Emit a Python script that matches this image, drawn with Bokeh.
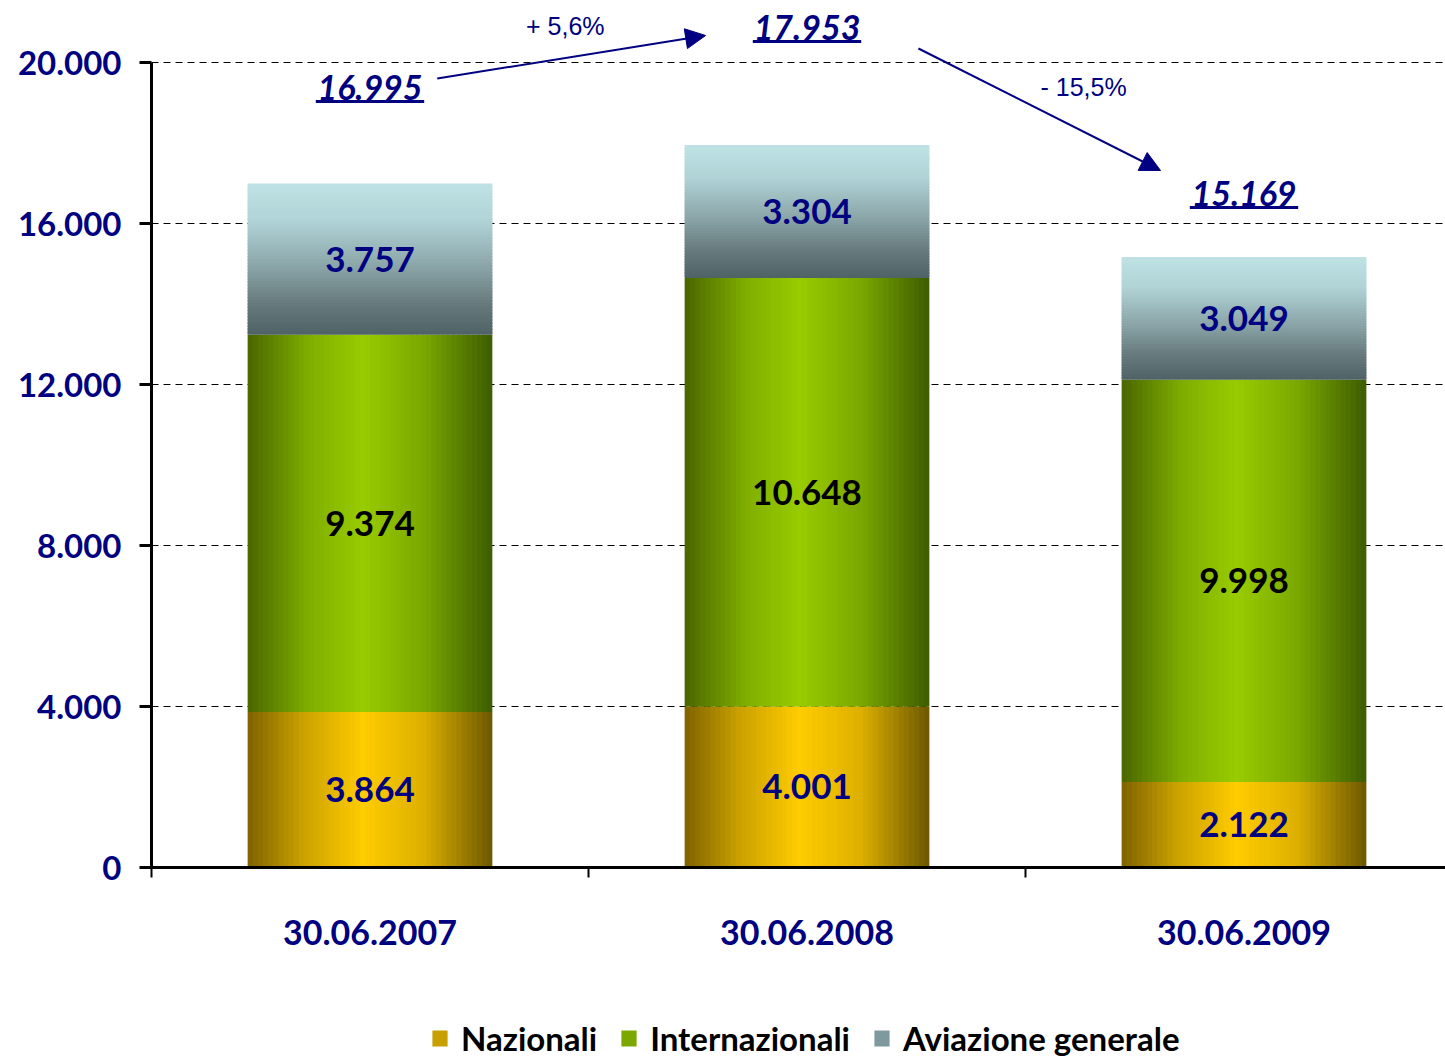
from bokeh.plotting import figure
from bokeh.layouts import column
from bokeh.models import (Range1d, FixedTicker, ColumnDataSource, Arrow, NormalHead,
                          Legend, LegendItem)
from bokeh.core.properties import value
from bokeh.embed import file_html
from bokeh.resources import INLINE

# ---------------- data ----------------
categories = ["30.06.2007", "30.06.2008", "30.06.2009"]
nazionali = [3864, 4001, 2122]
internazionali = [9374, 10648, 9998]
aviazione = [3757, 3304, 3049]
series_names = ["Nazionali", "Internazionali", "Aviazione generale"]
y_ticks = [0, 4000, 8000, 12000, 16000, 20000]

# ---------------- styles ----------------
FONT = "Lato"
NAVY = "#000080"
BAR_W = 0.56
N_STRIPES = 48
YELLOW = [(0.0, "#7e6200"), (0.22, "#c9a000"), (0.47, "#ffcc00"), (0.72, "#ddb000"), (1.0, "#6c5700")]
GREEN = [(0.0, "#4a6600"), (0.25, "#7fae00"), (0.47, "#99cc00"), (0.72, "#7aa800"), (1.0, "#3d5c00")]
AVIA = [(0.0, "#bfe2e5"), (0.25, "#b0d3d6"), (0.55, "#8aa5a8"), (0.8, "#66797c"), (1.0, "#4f6266")]
LEGEND_COLORS = ["#c8a000", "#7aa800", "#7f9a9e"]
SEG_TEXT_COLORS = [NAVY, "black", NAVY]
TOTAL_OFFSETS = [2384, 2917, 1576]       # label height above bar top (data units)
ARROWS = [((0.654, 19602), (1.268, 20671)), ((1.755, 20348), (2.309, 17317))]
PCT_POS = [(0.947, 20919), (2.133, 19379)]
UNDERLINE_W = 0.248
UNDERLINE_DY = 350
W, H_MAIN, H_LEG, LEFT, FRAME_H = 1445, 1000, 59, 151, 867
PX_PER_CAT, PX_PER_UNIT = 437, 0.04025
LEGEND_LOC = (279, 1)


def fmt(v):
    return f"{v:,}".replace(",", ".")


def hex2rgb(h):
    h = h.lstrip("#")
    return tuple(int(h[i:i + 2], 16) for i in (0, 2, 4))


def interp(profile, t):
    for (t0, c0), (t1, c1) in zip(profile[:-1], profile[1:]):
        if t0 <= t <= t1:
            f = (t - t0) / (t1 - t0)
            a, b = hex2rgb(c0), hex2rgb(c1)
            return "#%02x%02x%02x" % tuple(round(a[k] + (b[k] - a[k]) * f) for k in range(3))
    return profile[-1][1]


xc = [i + 0.5 for i in range(len(categories))]
totals = [a + b + c for a, b, c in zip(nazionali, internazionali, aviazione)]

p = figure(width=W, height=H_MAIN,
           x_range=Range1d(0, (W - LEFT) / PX_PER_CAT), y_range=Range1d(0, FRAME_H / PX_PER_UNIT),
           output_backend="svg", toolbar_location=None,
           min_border_left=LEFT, min_border_right=0, min_border_top=0,
           min_border_bottom=H_MAIN - FRAME_H)
p.outline_line_color = None
p.xgrid.visible = False
p.background_fill_color = "white"


def h_stripes(bottoms, heights, profile):
    d = dict(left=[], right=[], top=[], bottom=[], color=[])
    step = BAR_W / N_STRIPES
    for x, b, h in zip(xc, bottoms, heights):
        for i in range(N_STRIPES):
            l = x - BAR_W / 2 + i * step
            r = min(l + step * 1.6, x + BAR_W / 2)
            d["left"].append(l); d["right"].append(r)
            d["bottom"].append(b); d["top"].append(b + h)
            d["color"].append(interp(profile, (i + 0.5) / N_STRIPES))
    return d


def v_stripes(bottoms, heights, profile):
    d = dict(left=[], right=[], top=[], bottom=[], color=[])
    for x, b, h in zip(xc, bottoms, heights):
        step = h / N_STRIPES
        for i in range(N_STRIPES):
            top = b + h - i * step
            bot = max(top - step * 1.6, b)
            d["left"].append(x - BAR_W / 2); d["right"].append(x + BAR_W / 2)
            d["top"].append(top); d["bottom"].append(bot)
            d["color"].append(interp(profile, (i + 0.5) / N_STRIPES))
    return d


b0 = [0] * 3
b1 = nazionali
b2 = [a + b for a, b in zip(nazionali, internazionali)]
for src in (h_stripes(b0, nazionali, YELLOW), h_stripes(b1, internazionali, GREEN),
            v_stripes(b2, aviazione, AVIA)):
    p.quad(left="left", right="right", top="top", bottom="bottom", fill_color="color",
           line_color=None, source=ColumnDataSource(src))

# segment labels
for bottoms, vals, col in zip((b0, b1, b2), (nazionali, internazionali, aviazione), SEG_TEXT_COLORS):
    p.text(x=xc, y=[b + v / 2 for b, v in zip(bottoms, vals)], text=[fmt(v) for v in vals],
           text_align="center", text_baseline="middle", text_color=col,
           text_font=value(FONT), text_font_style="bold", text_font_size="35px")

# totals
ty = [t + o for t, o in zip(totals, TOTAL_OFFSETS)]
p.text(x=xc, y=ty, text=[fmt(t) for t in totals], text_align="center", text_baseline="middle",
       text_color=NAVY, text_font=value(FONT), text_font_style="bold italic", text_font_size="34px")
p.segment(x0=[x - UNDERLINE_W / 2 for x in xc], x1=[x + UNDERLINE_W / 2 for x in xc],
          y0=[y - UNDERLINE_DY for y in ty], y1=[y - UNDERLINE_DY for y in ty],
          line_color=NAVY, line_width=3)

# arrows & percentages
pcts = [(totals[i + 1] - totals[i]) / totals[i] * 100 for i in range(len(totals) - 1)]
pct_txt = [("+ " if v >= 0 else "- ") + f"{abs(v):.1f}".replace(".", ",") + "%" for v in pcts]
for (s, e) in ARROWS:
    p.add_layout(Arrow(end=NormalHead(size=20, fill_color=NAVY, line_color=NAVY),
                       x_start=s[0], y_start=s[1], x_end=e[0], y_end=e[1],
                       line_color=NAVY, line_width=2))
p.text(x=[q[0] for q in PCT_POS], y=[q[1] for q in PCT_POS], text=pct_txt,
       text_align="center", text_baseline="middle", text_color=NAVY,
       text_font=value("Liberation Sans"), text_font_size="25px")

# y axis
p.yaxis.ticker = FixedTicker(ticks=y_ticks)
p.yaxis.bounds = (0, 20000)
p.yaxis.major_label_overrides = {t: fmt(t) for t in y_ticks}
p.yaxis.major_label_text_font = FONT
p.yaxis.major_label_text_font_style = "bold"
p.yaxis.major_label_text_font_size = "33px"
p.yaxis.major_label_text_color = NAVY
p.yaxis.major_label_standoff = 18
p.yaxis.axis_line_width = 3
p.yaxis.major_tick_line_width = 3
p.yaxis.major_tick_out = 12
p.yaxis.major_tick_in = 0
p.yaxis.minor_tick_line_color = None
p.ygrid.grid_line_color = "black"
p.ygrid.grid_line_dash = "7 5"
p.ygrid.grid_line_width = 1

# x axis
p.xaxis.ticker = FixedTicker(ticks=xc, minor_ticks=list(range(len(categories))))
p.xaxis.major_label_overrides = {x: c for x, c in zip(xc, categories)}
p.xaxis.major_label_text_font = FONT
p.xaxis.major_label_text_font_style = "bold"
p.xaxis.major_label_text_font_size = "34px"
p.xaxis.major_label_text_color = NAVY
p.xaxis.major_label_standoff = 42
p.xaxis.major_tick_out = 0
p.xaxis.major_tick_in = 0
p.xaxis.minor_tick_out = 10
p.xaxis.minor_tick_in = 0
p.xaxis.minor_tick_line_width = 2
p.xaxis.axis_line_width = 3

# legend (own strip below the chart)
pl = figure(width=W, height=H_LEG, x_range=Range1d(0, 1), y_range=Range1d(0, 1),
            output_backend="svg", toolbar_location=None, x_axis_type=None, y_axis_type=None,
            min_border_left=0, min_border_right=0, min_border_top=0, min_border_bottom=0)
pl.outline_line_color = None
pl.grid.visible = False
items = []
for name, col in zip(series_names, LEGEND_COLORS):
    # off-range proxy glyph: only its legend swatch is visible
    r = pl.quad(left=[-3], right=[-2], top=[-2], bottom=[-3], fill_color=col, line_color=None)
    items.append(LegendItem(label=name, renderers=[r]))
legend = Legend(items=items, orientation="horizontal", location=LEGEND_LOC,
                glyph_width=19, glyph_height=20, label_standoff=12, spacing=22,
                label_text_font=FONT, label_text_font_style="bold", label_text_font_size="33px",
                label_text_color="black", border_line_color=None, background_fill_alpha=0,
                padding=0, margin=0)
pl.add_layout(legend)

layout = column(p, pl, spacing=0)
open("out.html", "w").write(file_html(layout, INLINE))
